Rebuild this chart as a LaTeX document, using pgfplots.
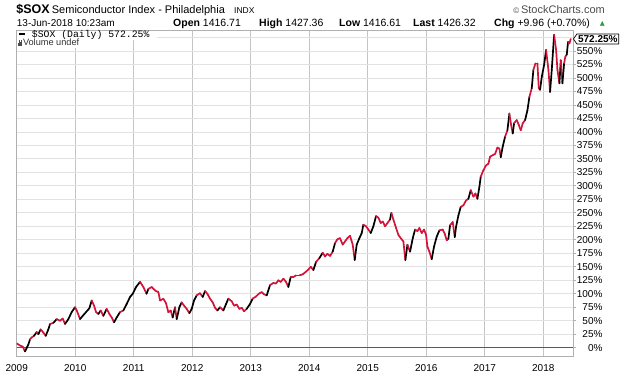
\documentclass[border=0pt]{standalone}
\usepackage{fontspec}
\setmainfont{Liberation Sans}
\newfontfamily\monofont{Liberation Mono}
\newfontfamily\djv{DejaVu Sans}
\usepackage{pgfplots}
\usepackage{pgfplotstable}
\pgfplotsset{compat=1.18}
\usetikzlibrary{shapes.symbols}
\definecolor{soxred}{HTML}{D2143A}
\definecolor{majgrid}{HTML}{C4C4C4}
\definecolor{mingrid}{HTML}{E2E2E2}
\definecolor{framec}{HTML}{B0B0B0}
\definecolor{upgreen}{HTML}{2E9E3E}

\pgfplotstableread{
x y
2009.000 8
2009.057 4
2009.103 2
2009.142 -7
2009.182 2
2009.199 6
2009.228 15.6
2009.256 19
2009.296 22
2009.342 29
2009.370 25
2009.410 34
2009.456 28
2009.496 22
2009.541 34
2009.570 44
2009.627 46
2009.684 53
2009.741 50
2009.786 54
2009.826 44
2009.883 53
2009.940 66
2009.997 75
2010.026 69
2010.083 53
2010.128 59
2010.185 66
2010.242 73
2010.282 87.5
2010.322 78
2010.356 66
2010.396 62.5
2010.436 69
2010.481 59
2010.538 72
2010.584 62.5
2010.624 56
2010.664 47
2010.709 56
2010.766 66
2010.823 69
2010.880 81
2010.937 94
2010.983 100
2011.040 112.5
2011.108 122
2011.165 112.5
2011.219 100
2011.251 109
2011.308 112.5
2011.365 106
2011.422 103
2011.450 87.5
2011.507 90.6
2011.552 82.5
2011.592 65.6
2011.632 69
2011.666 56
2011.706 75
2011.735 53
2011.780 75
2011.820 84
2011.860 78
2011.905 72
2011.951 64
2011.991 72
2012.031 87.5
2012.076 97
2012.133 101
2012.179 94
2012.219 105
2012.259 100
2012.304 91
2012.350 84
2012.390 74
2012.430 69
2012.475 75
2012.532 69
2012.578 81
2012.618 91
2012.675 86
2012.715 78
2012.760 80
2012.806 72
2012.846 74
2012.886 67.5
2012.931 72
2012.988 81
2013.034 91
2013.091 95
2013.136 100
2013.188 103
2013.227 99
2013.273 97
2013.330 116
2013.387 120
2013.433 119
2013.472 125
2013.512 122
2013.558 128
2013.603 122
2013.643 112.5
2013.683 131
2013.729 131
2013.774 134
2013.831 134
2013.888 136
2013.945 141
2013.985 145
2014.025 150
2014.071 144
2014.116 159
2014.173 166
2014.230 176
2014.270 169
2014.310 174
2014.356 170
2014.401 178
2014.441 194
2014.481 201
2014.526 203
2014.572 191
2014.612 197
2014.652 203
2014.697 207.5
2014.743 191
2014.777 162.5
2014.811 191
2014.857 203
2014.897 212.5
2014.925 228
2014.971 225
2015.011 219
2015.051 212.5
2015.096 225
2015.142 244
2015.182 241
2015.222 231
2015.256 234
2015.296 225
2015.336 231
2015.381 237.5
2015.404 250
2015.438 237.5
2015.484 222
2015.524 209
2015.564 203
2015.609 197
2015.643 162.5
2015.678 191
2015.723 178
2015.769 203
2015.809 219
2015.849 216
2015.883 222
2015.922 212.5
2015.962 219
2015.997 209
2016.019 187.5
2016.054 178
2016.093 164
2016.133 187.5
2016.179 206
2016.225 217.5
2016.281 219
2016.316 211
2016.350 199
2016.378 202
2016.407 227
2016.452 233
2016.487 205
2016.509 224
2016.549 245
2016.589 261
2016.635 264
2016.680 273
2016.720 276
2016.760 292
2016.806 280
2016.840 286
2016.874 276
2016.908 298
2016.931 317
2016.977 329
2017.022 338
2017.062 341
2017.091 354
2017.136 357
2017.176 359
2017.216 371
2017.250 369
2017.273 353
2017.307 373
2017.347 391
2017.387 403
2017.421 434
2017.450 413
2017.478 397
2017.501 416
2017.546 422
2017.581 413
2017.615 403
2017.649 416
2017.689 422
2017.729 440
2017.763 465
2017.803 481
2017.831 515
2017.866 527
2017.900 527
2017.923 481
2017.945 478
2017.974 502
2018.014 524
2018.048 552
2018.088 515
2018.116 474
2018.145 515
2018.185 580
2018.219 552
2018.242 515
2018.276 490
2018.299 533
2018.327 490
2018.356 527
2018.378 540
2018.401 543
2018.424 567
2018.447 564
2018.469 572.25
}\soxdata

\pgfplotstablecreatecol[
  create col/assign/.code={%
    \getthisrow{y}\curval
    \getnextrow{y}\nxtval
    \ifx\nxtval\empty
      \def\entry{0}%
    \else
      \pgfmathparse{(\nxtval-\curval)/(100+\curval) > 0.03 ? 1 : 0}%
      \let\entry\pgfmathresult
    \fi
    \pgfkeyslet{/pgfplots/table/create col/next content}\entry
  }]{up}\soxdata

\begin{document}
\begin{tikzpicture}[x=1pt,y=1pt]
\useasboundingbox (0,0) rectangle (620,376);
\begin{axis}[
  at={(16.7pt,20pt)}, anchor=south west, scale only axis,
  width=556.3pt, height=325.3pt,
  xmin=2009, xmax=2018.508, ymin=-15.4, ymax=587.6,
  clip mode=individual,
  axis line style={draw=framec, line width=0.8pt},
  xtick={2009,2010,...,2018},
  minor x tick num=3,
  ytick={0,25,...,575},
  yticklabels={0\%,25\%,50\%,75\%,100\%,125\%,150\%,175\%,200\%,225\%,250\%,275\%,300\%,325\%,350\%,375\%,400\%,425\%,450\%,475\%,500\%,525\%,550\%,},
  xmajorgrids, xminorgrids, ymajorgrids,
  major x grid style={draw=majgrid, line width=0.8pt},
  minor x grid style={draw=mingrid, line width=0.8pt},
  major y grid style={draw=mingrid, line width=0.8pt},
  xtick style={draw=none},
  minor x tick style={draw=none},
  ytick pos=right, yticklabel pos=right,
  tick align=outside, major tick length=3pt, minor tick length=0pt,
  ytick style={draw=framec, line width=0.8pt},
  tick label style={font=\fontsize{10}{12}\selectfont},
  /pgf/number format/assume math mode=true,
  /pgf/number format/1000 sep={},
  yticklabel style={anchor=east, xshift=30pt},
  xticklabel style={anchor=base, yshift=-12pt},
  extra y ticks={0}, extra y tick labels={},
  extra y tick style={ymajorgrids=true, major y grid style={draw=black!65, line width=1pt}, tick style={draw=black!65, line width=1pt}},
  colormap={updown}{color=(soxred) color=(black)},
  point meta min=0, point meta max=1,
]
\addplot[mesh, shader=flat corner, line width=1.7pt, line cap=round, line join=round, point meta=explicit]
  table[x=x, y=y, meta=up] {\soxdata};
\coordinate (tag) at (axis cs:2018.508,572.25);
\end{axis}

% tag for last value
\node[signal, signal to=west, signal pointer angle=110, draw=black, line width=0.7pt, fill=white,
      font=\bfseries\fontsize{10}{12}\selectfont, inner xsep=1.2pt, inner ysep=1.4pt, anchor=west]
      at (tag) {572.25\%};

% legend
\fill[white] (17.2,344.9) rectangle (157,336);
\fill[white] (17.2,336) rectangle (84,328.5);
\draw[black, line width=1.8pt] (18.5,341.9) -- (25,341.9);
\node[anchor=base west, inner sep=0, font=\monofont\fontsize{9.8}{10}\selectfont] at (31.7,338.6) {\$SOX (Daily) 572.25\%};
\node[anchor=base west, inner sep=0, font=\fontsize{9.2}{9.5}\selectfont, text=black!80] at (17.3,330.3)
  {\textcolor{black!70}{\rule{1pt}{3pt}\kern0.3pt\rule{1pt}{5.5pt}\kern0.3pt\rule{1pt}{4pt}\kern0.3pt\rule{1pt}{5.5pt}}\kern0.6pt Volume undef};

% header
\node[anchor=base west, inner sep=0, font=\bfseries\fontsize{12.5}{14}\selectfont] at (16.2,362.5) {\$SOX};
\node[anchor=base west, inner sep=0, font=\fontsize{11}{13}\selectfont] at (51.7,362.5) {Semiconductor Index - Philadelphia};
\node[anchor=base west, inner sep=0, font=\fontsize{8.5}{10}\selectfont] at (234,362.5) {INDX};
\node[anchor=base east, inner sep=0, font=\fontsize{11}{13}\selectfont, text=black!70] at (605,362.5) {{\fontsize{8}{10}\selectfont ©}\,StockCharts.com};

\node[anchor=base west, inner sep=0, font=\fontsize{10}{12}\selectfont] at (16.7,350) {13-Jun-2018 10:23am};
\node[anchor=base west, inner sep=0, font=\fontsize{10.5}{12}\selectfont] at (173,350) {\textbf{Open} 1416.71};
\node[anchor=base west, inner sep=0, font=\fontsize{10.5}{12}\selectfont] at (259,350) {\textbf{High} 1427.36};
\node[anchor=base west, inner sep=0, font=\fontsize{10.5}{12}\selectfont] at (339,350) {\textbf{Low} 1416.61};
\node[anchor=base west, inner sep=0, font=\fontsize{10.5}{12}\selectfont] at (413,350) {\textbf{Last} 1426.32};
\node[anchor=base west, inner sep=0, font=\fontsize{10.5}{12}\selectfont] at (494,350) {\textbf{Chg} +9.96 (+0.70\%)};
\node[anchor=base east, inner sep=0, font=\djv\fontsize{6.5}{8}\selectfont, text=upgreen] at (605,350.5) {▲};
\end{tikzpicture}
\end{document}
